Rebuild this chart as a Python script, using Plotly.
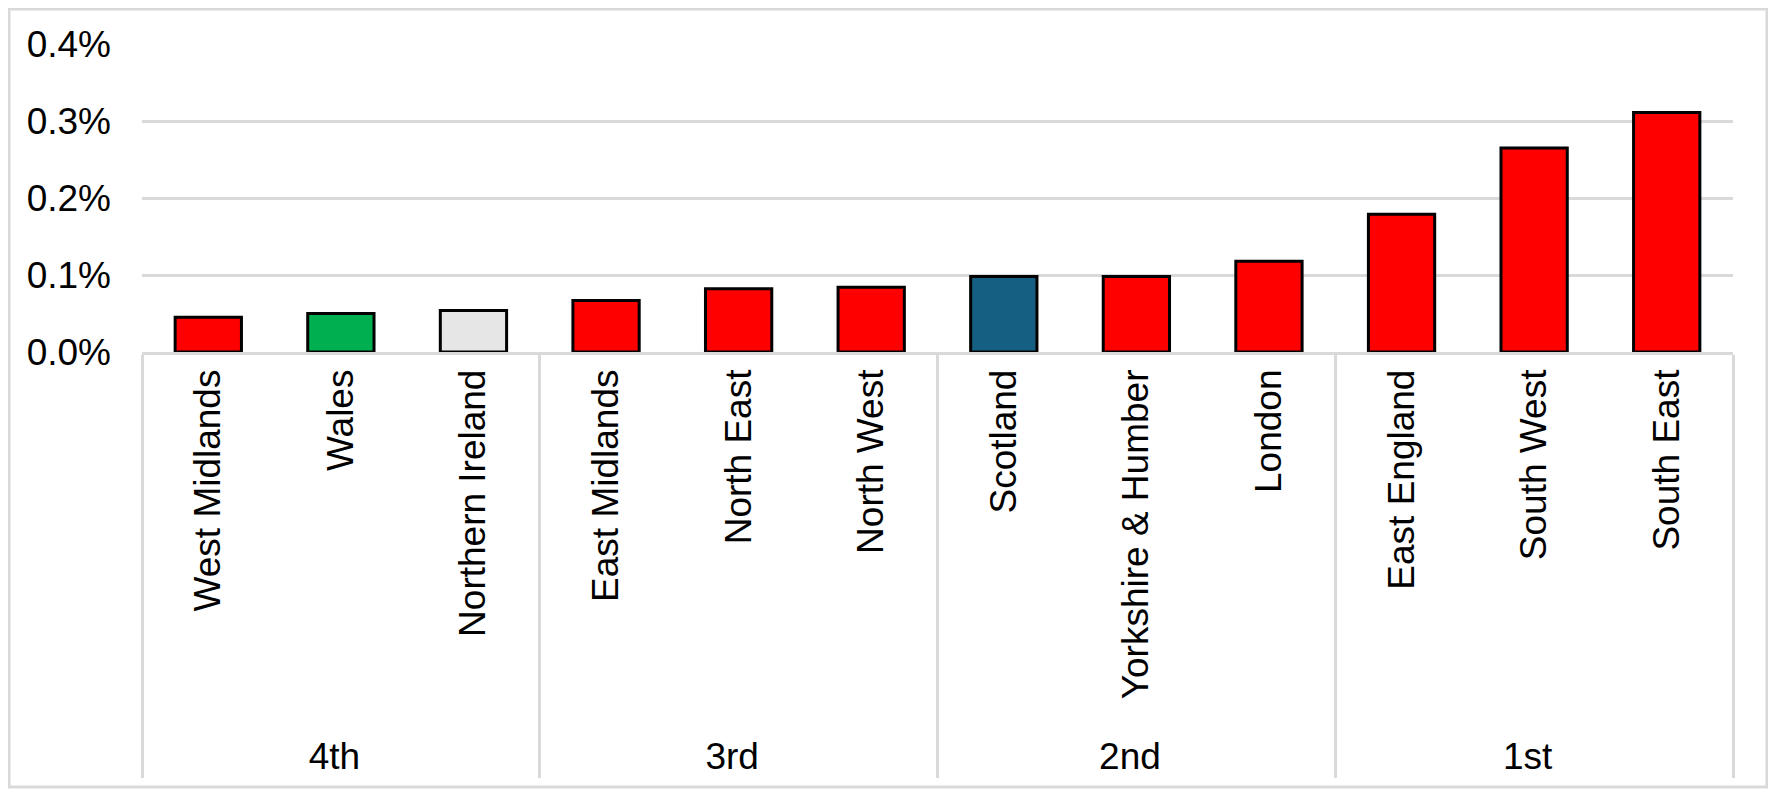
import plotly.graph_objects as go

regions = ["West Midlands", "Wales", "Northern Ireland", "East Midlands", "North East",
           "North West", "Scotland", "Yorkshire & Humber", "London", "East England",
           "South West", "South East"]
ranks = ["4th", "4th", "4th", "3rd", "3rd", "3rd", "2nd", "2nd", "2nd", "1st", "1st", "1st"]
values_pct = [0.045, 0.050, 0.054, 0.067, 0.082, 0.084, 0.098, 0.098, 0.118, 0.179, 0.265, 0.311]
colors = ["#FF0000", "#00B050", "#E7E6E6", "#FF0000", "#FF0000", "#FF0000",
          "#156082", "#FF0000", "#FF0000", "#FF0000", "#FF0000", "#FF0000"]
y_ticks = [0.0, 0.001, 0.002, 0.003, 0.004]

FONT = "Liberation Sans, Arial, sans-serif"
GRID = "#D9D9D9"
FS = 37

fig = go.Figure(go.Bar(
    x=[ranks, regions],
    y=[v / 100 for v in values_pct],
    marker=dict(color=colors, line=dict(color="#000000", width=3)),
    showlegend=False,
))

# page body has an 8px margin, so the figure is sized/offset to compensate
W, H = 1768, 788
ml, mr, mt, mb = 134, 43, 36, 444

fig.update_layout(
    width=W, height=H,
    margin=dict(l=ml, r=mr, t=mt, b=mb),
    paper_bgcolor="white", plot_bgcolor="white",
    bargap=0.5,
    font=dict(family=FONT, size=FS, color="#000000"),
    xaxis=dict(
        type="multicategory",
        tickangle=-90,
        showline=True, linecolor=GRID, linewidth=2.5,
        showdividers=True, dividercolor=GRID, dividerwidth=2.5,
        ticks="", showgrid=False,
        tickfont=dict(family=FONT, size=FS, color="#000000"),
    ),
    yaxis=dict(
        range=[0, 0.004],
        tickvals=y_ticks,
        tickformat=".1%",
        showgrid=True, gridcolor=GRID, gridwidth=2.5,
        zeroline=False, showline=False,
        ticks="", ticklabelstandoff=30,
        tickfont=dict(family=FONT, size=FS, color="#000000"),
    ),
)

# outer chart border
pw, ph = W - ml - mr, H - mt - mb
fig.add_shape(type="rect", xref="paper", yref="paper",
              x0=(1 - ml) / pw, x1=(1759 - ml) / pw,
              y0=-(779 - (H - mb)) / ph, y1=((H - mb) - 1) / ph,
              line=dict(color=GRID, width=3), fillcolor="rgba(0,0,0,0)", layer="below")

fig.write_html("out.html")
